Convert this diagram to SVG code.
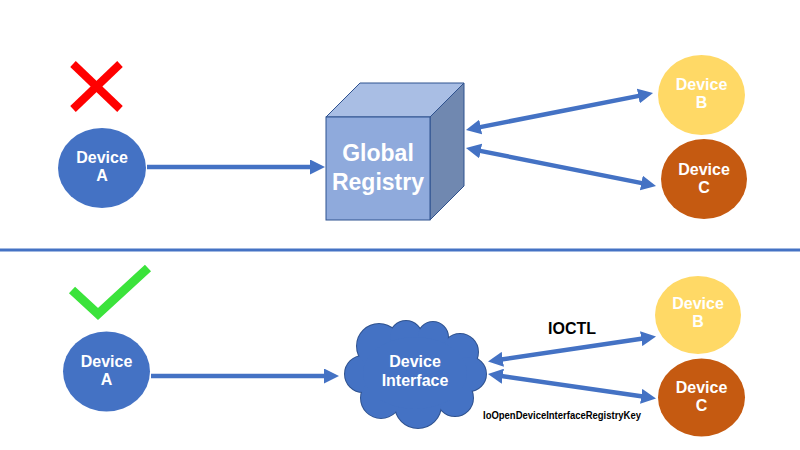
<svg xmlns="http://www.w3.org/2000/svg" width="800" height="450" viewBox="0 0 800 450">
<style>
.lbl{font-family:"Liberation Sans",Arial,sans-serif;font-weight:bold;font-size:16px;fill:#fff;text-anchor:middle}
.big{font-size:23px}
.conn{stroke:#4472C4;stroke-width:4.5;fill:none}
.blk{font-family:"Liberation Sans",Arial,sans-serif;font-weight:bold;fill:#000}
</style>
<defs>
<marker id="ah" markerUnits="userSpaceOnUse" markerWidth="15" markerHeight="15" viewBox="0 0 15 15" refX="7" refY="7.5" orient="auto-start-reverse">
<path d="M0,0 L15,7.5 L0,15 z" fill="#4472C4"/>
</marker>
</defs>
<rect width="800" height="450" fill="#fff"/>
<line x1="0" y1="250" x2="800" y2="250" stroke="#4472C4" stroke-width="3"/>

<g id="cross">
<line x1="73" y1="64" x2="120" y2="109" stroke="#FF0000" stroke-width="8"/>
<line x1="120" y1="64" x2="73" y2="109" stroke="#FF0000" stroke-width="8"/>
</g>
<g id="check">
<polyline points="72,290 98,314 148,268" fill="none" stroke="#3BE33B" stroke-width="9"/>
</g>

<g id="connectors">
<line class="conn" x1="147" y1="167" x2="317" y2="167" marker-end="url(#ah)"/>
<line class="conn" x1="473.8" y1="128.4" x2="645.2" y2="94.6" marker-start="url(#ah)" marker-end="url(#ah)"/>
<line class="conn" x1="473.8" y1="149.6" x2="648.2" y2="184.4" marker-start="url(#ah)" marker-end="url(#ah)"/>
<line class="conn" x1="151" y1="376" x2="331" y2="376" marker-end="url(#ah)"/>
<line class="conn" x1="495.9" y1="360.3" x2="648.1" y2="337.7" marker-start="url(#ah)" marker-end="url(#ah)"/>
<line class="conn" x1="495.9" y1="375.2" x2="648.1" y2="397.3" marker-start="url(#ah)" marker-end="url(#ah)"/>
<text class="blk" x="572" y="334" font-size="16" text-anchor="middle">IOCTL</text>
<text class="blk" x="483" y="419" font-size="10" textLength="158" lengthAdjust="spacingAndGlyphs">IoOpenDeviceInterfaceRegistryKey</text>
</g>

<g id="deviceA-top">
<ellipse cx="102" cy="168" rx="44" ry="40" fill="#4472C4"/>
<text class="lbl" x="102" y="162.5">Device</text>
<text class="lbl" x="102" y="181">A</text>
</g>

<g id="global-registry">
<polygon points="326,117 360,83 464,83 430,117" fill="#A9BEE4" stroke="#2F528F" stroke-width="1"/>
<polygon points="430,117 464,83 464,186 430,220" fill="#7088B0" stroke="#2F528F" stroke-width="1"/>
<rect x="326" y="117" width="104" height="103" fill="#8FAADC" stroke="#2F528F" stroke-width="1"/>
<text class="lbl big" x="378" y="161">Global</text>
<text class="lbl big" x="378" y="190">Registry</text>
</g>

<g id="deviceB-top">
<ellipse cx="701.5" cy="95" rx="43.5" ry="40" fill="#FFD966"/>
<text class="lbl" x="701.5" y="89.5">Device</text>
<text class="lbl" x="701.5" y="108">B</text>
</g>
<g id="deviceC-top">
<ellipse cx="704" cy="179" rx="43" ry="40" fill="#C55A11"/>
<text class="lbl" x="704" y="174.5">Device</text>
<text class="lbl" x="704" y="193">C</text>
</g>

<g id="deviceA-bottom">
<ellipse cx="106.5" cy="371.5" rx="43.5" ry="40" fill="#4472C4"/>
<text class="lbl" x="106.5" y="366.5">Device</text>
<text class="lbl" x="106.5" y="385">A</text>
</g>

<g id="device-interface">
<g fill="#4472C4" stroke="#2F528F" stroke-width="2">
<circle cx="363" cy="374" r="18"/>
<circle cx="379" cy="346" r="22"/>
<circle cx="406" cy="337" r="16"/>
<circle cx="433" cy="337" r="15"/>
<circle cx="460" cy="352" r="18"/>
<circle cx="469" cy="374" r="17"/>
<circle cx="455" cy="398" r="18"/>
<circle cx="418" cy="405" r="23"/>
<circle cx="381" cy="398" r="20"/>
</g>
<g fill="#4472C4">
<circle cx="363" cy="374" r="18"/>
<circle cx="379" cy="346" r="22"/>
<circle cx="406" cy="337" r="16"/>
<circle cx="433" cy="337" r="15"/>
<circle cx="460" cy="352" r="18"/>
<circle cx="469" cy="374" r="17"/>
<circle cx="455" cy="398" r="18"/>
<circle cx="418" cy="405" r="23"/>
<circle cx="381" cy="398" r="20"/>
<ellipse cx="415" cy="373" rx="52" ry="36"/>
</g>
<text class="lbl" x="415" y="366.5">Device</text>
<text class="lbl" x="415" y="386">Interface</text>
</g>

<g id="deviceB-bottom">
<ellipse cx="698" cy="315" rx="43" ry="39" fill="#FFD966"/>
<text class="lbl" x="698" y="308.5">Device</text>
<text class="lbl" x="698" y="327">B</text>
</g>
<g id="deviceC-bottom">
<ellipse cx="701.5" cy="397.5" rx="43.5" ry="39" fill="#C55A11"/>
<text class="lbl" x="701.5" y="392.5">Device</text>
<text class="lbl" x="701.5" y="411">C</text>
</g>
</svg>
